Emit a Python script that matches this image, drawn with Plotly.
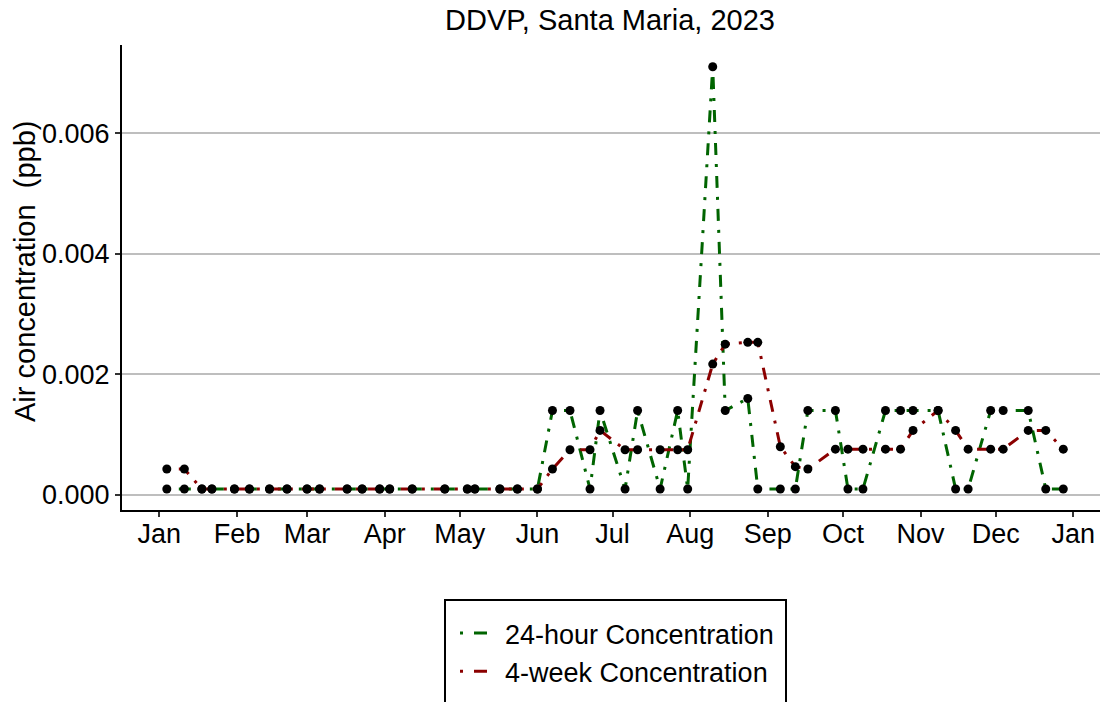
import plotly.graph_objects as go

# Sampling dates and measured concentrations (ppb)
sample_dates = [
    "2023-01-04", "2023-01-11", "2023-01-18", "2023-01-22", "2023-01-31",
    "2023-02-06", "2023-02-14", "2023-02-21", "2023-03-01", "2023-03-06",
    "2023-03-17", "2023-03-23", "2023-03-30", "2023-04-03", "2023-04-12",
    "2023-04-25", "2023-05-04", "2023-05-07", "2023-05-17", "2023-05-24",
    "2023-06-01", "2023-06-07", "2023-06-14", "2023-06-22", "2023-06-26",
    "2023-07-06", "2023-07-11", "2023-07-20", "2023-07-27", "2023-07-31",
    "2023-08-10", "2023-08-15", "2023-08-24", "2023-08-28", "2023-09-06",
    "2023-09-12", "2023-09-17", "2023-09-28", "2023-10-03", "2023-10-09",
    "2023-10-18", "2023-10-24", "2023-10-29", "2023-11-08", "2023-11-15",
    "2023-11-20", "2023-11-29", "2023-12-04", "2023-12-14", "2023-12-21",
    "2023-12-28",
]

conc_24h = [
    0.0001, 0.0001, 0.0001, 0.0001, 0.0001,
    0.0001, 0.0001, 0.0001, 0.0001, 0.0001,
    0.0001, 0.0001, 0.0001, 0.0001, 0.0001,
    0.0001, 0.0001, 0.0001, 0.0001, 0.0001,
    0.0001, 0.0014, 0.0014, 0.0001, 0.0014,
    0.0001, 0.0014, 0.0001, 0.0014, 0.0001,
    0.0071, 0.0014, 0.0016, 0.0001, 0.0001,
    0.0001, 0.0014, 0.0014, 0.0001, 0.0001,
    0.0014, 0.0014, 0.0014, 0.0014, 0.0001,
    0.0001, 0.0014, 0.0014, 0.0014, 0.0001,
    0.0001,
]

conc_4wk = [
    0.00043, 0.00043, 0.0001, 0.0001, 0.0001,
    0.0001, 0.0001, 0.0001, 0.0001, 0.0001,
    0.0001, 0.0001, 0.0001, 0.0001, 0.0001,
    0.0001, 0.0001, 0.0001, 0.0001, 0.0001,
    0.0001, 0.00043, 0.00075, 0.00075, 0.00107,
    0.00075, 0.00075, 0.00075, 0.00075, 0.00075,
    0.00217, 0.0025, 0.00253, 0.00253, 0.0008,
    0.00047, 0.00043, 0.00076, 0.00076, 0.00076,
    0.00076, 0.00076, 0.00107, 0.0014, 0.00107,
    0.00076, 0.00076, 0.00076, 0.00107, 0.00107,
    0.00076,
]

month_ticks = [
    "2023-01-01", "2023-02-01", "2023-03-01", "2023-04-01", "2023-05-01",
    "2023-06-01", "2023-07-01", "2023-08-01", "2023-09-01", "2023-10-01",
    "2023-11-01", "2023-12-01", "2024-01-01",
]
month_labels = ["Jan", "Feb", "Mar", "Apr", "May", "Jun", "Jul",
                "Aug", "Sep", "Oct", "Nov", "Dec", "Jan"]

y_ticks = [0.0, 0.002, 0.004, 0.006]
y_labels = ["0.000", "0.002", "0.004", "0.006"]

series_names = ["24-hour Concentration", "4-week Concentration"]

FONT = "Liberation Sans, Arial, sans-serif"
GREEN = "#006400"
RED = "#8B0000"
DOTDASH = "3px,9px,12px,9px"
# key glyph: a single dot followed by a single dash
KEY_DASH = "3px,11px,13px,40px"

fig = go.Figure()

for vals, color in ((conc_24h, GREEN), (conc_4wk, RED)):
    fig.add_trace(go.Scatter(
        x=sample_dates, y=vals, mode="lines", showlegend=False,
        line=dict(color=color, width=3, dash=DOTDASH),
    ))
for vals in (conc_24h, conc_4wk):
    fig.add_trace(go.Scatter(
        x=sample_dates, y=vals, mode="markers", showlegend=False,
        marker=dict(color="black", size=9), hoverinfo="skip",
    ))
# legend keys
for name, color in zip(series_names, (GREEN, RED)):
    fig.add_trace(go.Scatter(
        x=[None], y=[None], mode="lines", name=name,
        line=dict(color=color, width=3, dash=KEY_DASH),
    ))

# plot panel spans x 122..1100 px, y 45..510 px
L, R, T, B = 122, 0, 45, 192
W, H = 1100, 702
pw, ph = W - L - R, H - T - B


def px(x):
    return (x - L) / pw


def py(y):
    return (H - B - y) / ph


fig.update_layout(
    width=W, height=H,
    margin=dict(l=L, r=R, t=T, b=B, pad=0),
    paper_bgcolor="white", plot_bgcolor="white",
    font=dict(family=FONT, size=27, color="black"),
    title=dict(
        text="DDVP, Santa Maria, 2023",
        x=610 / W, xanchor="center", xref="container",
        y=1 - 20 / H, yanchor="middle", yref="container",
        font=dict(family=FONT, size=29, color="black"),
    ),
    showlegend=True,
    legend=dict(
        x=px(455), xanchor="left", y=py(609), yanchor="top",
        bgcolor="rgba(0,0,0,0)", borderwidth=0,
        font=dict(family=FONT, size=27, color="black"),
        itemwidth=40, tracegroupgap=0,
    ),
    shapes=[dict(
        type="rect", xref="paper", yref="paper",
        x0=px(445), x1=px(786), y0=py(600), y1=py(720),
        line=dict(color="black", width=2), fillcolor="rgba(0,0,0,0)",
    )],
    annotations=[dict(
        text="Air concentration\u00a0 (ppb)", textangle=-90,
        xref="paper", yref="paper", x=px(25), y=py(272),
        xanchor="center", yanchor="middle", showarrow=False,
        font=dict(family=FONT, size=29, color="black"),
    )],
)

fig.update_xaxes(
    type="date",
    range=["2022-12-17 02:24", "2024-01-11 15:50"],
    tickvals=month_ticks, ticktext=month_labels,
    showgrid=False, zeroline=False, automargin=False,
    showline=True, linecolor="black", linewidth=2,
    ticks="outside", ticklen=5, tickwidth=1.5, tickcolor="#333333",
    ticklabelstandoff=-6,
    tickfont=dict(family=FONT, size=27, color="black"),
)
fig.update_yaxes(
    range=[-0.000249, 0.00746],
    tickvals=y_ticks, ticktext=y_labels,
    showgrid=True, gridcolor="#BEBEBE", gridwidth=1.5, zeroline=False,
    automargin=False,
    showline=True, linecolor="black", linewidth=2,
    ticks="outside", ticklen=5, tickwidth=1.5, tickcolor="#333333",
    tickfont=dict(family=FONT, size=27, color="black"),
)

fig.write_html("out.html")
